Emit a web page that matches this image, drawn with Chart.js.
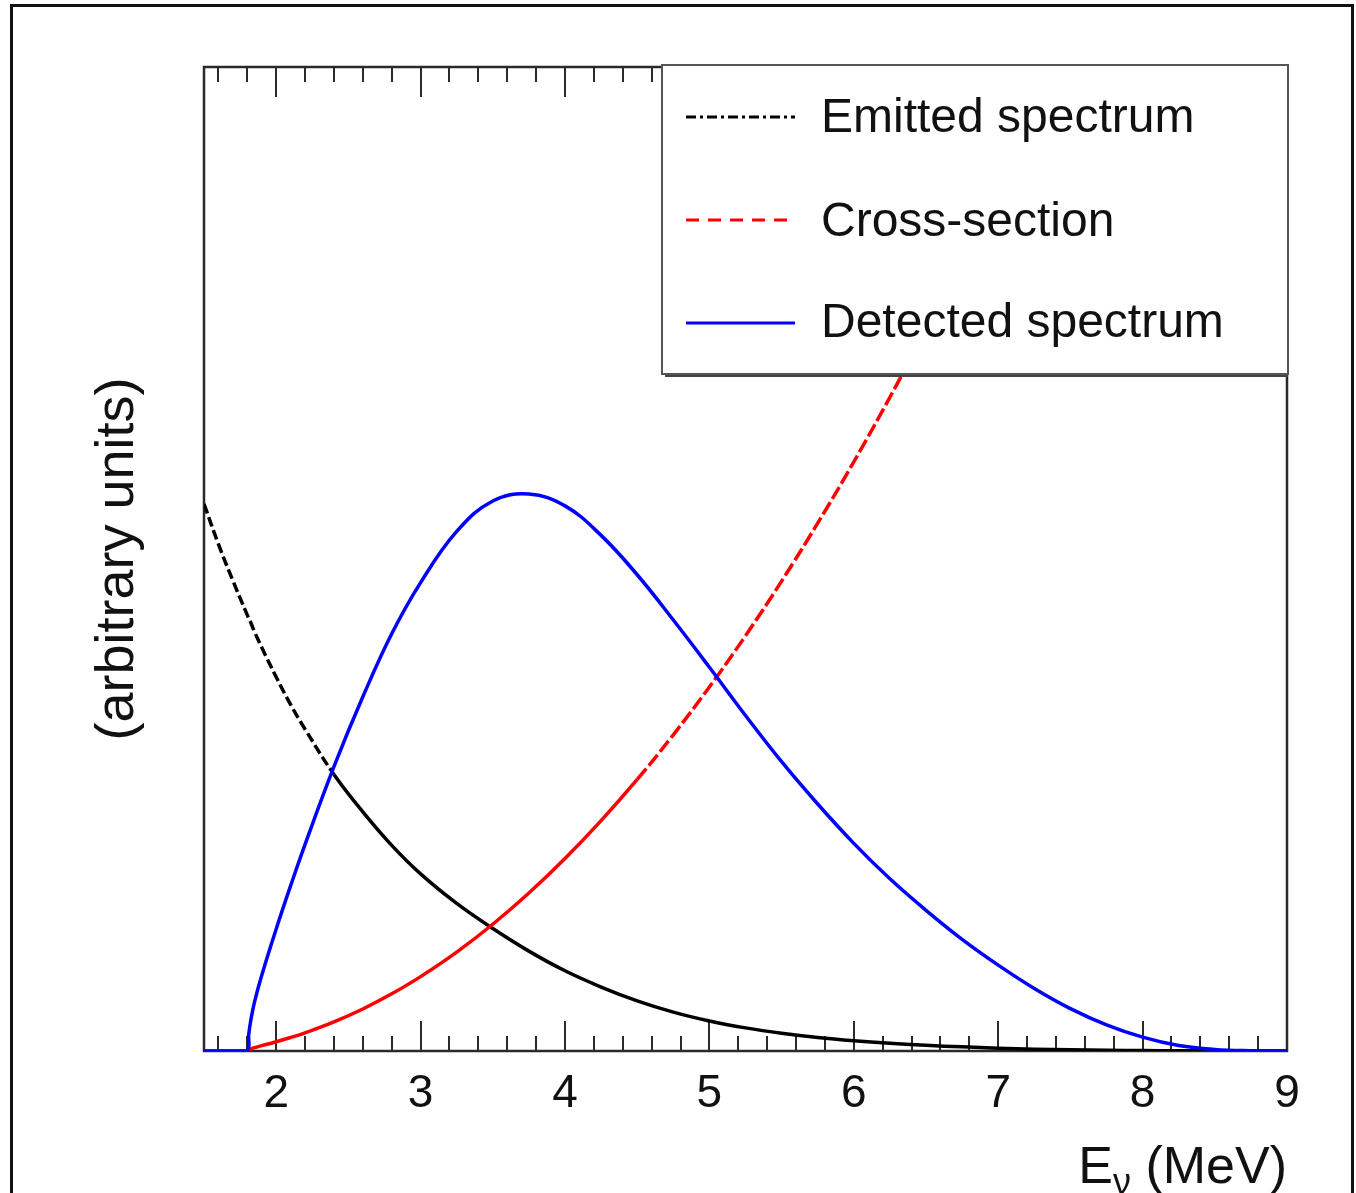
<!DOCTYPE html>
<html>
<head>
<meta charset="utf-8">
<title>Reactor neutrino spectrum</title>
<script src="https://cdn.jsdelivr.net/npm/chart.js@4/dist/chart.umd.min.js"></script>
<style>
  body { margin: 0; background: #fff; }
  canvas { display: block; }
</style>
</head>
<body>
<canvas id="spectrum" width="1356" height="1193"></canvas>
<script>
// neutrino energy (MeV)
var energies = [1.5, 1.6, 1.7, 1.8, 1.81, 1.825, 1.85, 1.9, 2.0, 2.1, 2.2, 2.4, 2.6, 2.8, 3.0, 3.25, 3.5, 3.75, 4.0, 4.25,
                4.5, 4.75, 5.0, 5.25, 5.5, 5.75, 6.0, 6.25, 6.5, 6.75, 7.0, 7.25, 7.5, 7.75, 8.0, 8.25, 8.5, 8.75, 9.0];
// arbitrary units
var emitted = [0.556, 0.515, 0.478, 0.443, 0.440, 0.435, 0.426, 0.410, 0.380, 0.352, 0.327, 0.281, 0.243, 0.209, 0.180, 0.150, 0.1245, 0.1015, 0.0815, 0.065,
               0.051, 0.0395, 0.0305, 0.0235, 0.018, 0.0137, 0.0104, 0.0078, 0.0058, 0.0042, 0.0029, 0.0019, 0.0013, 0.0008, 0.0004, 0.0002, 0.0001, 0, 0];
var crossSection = [0, 0, 0, 0, 0.0011, 0.0021, 0.0034, 0.0054, 0.0094, 0.0137, 0.0185, 0.0296, 0.0427, 0.0581, 0.0756, 0.1005, 0.1288, 0.1605, 0.1956, 0.2341,
                    0.276, 0.3213, 0.370, 0.422, 0.4775, 0.5364, 0.5987, 0.6644, 0.7334, 0.8058, 0.882, 0.961, 1.044, 1.13, 1.22, 1.31, 1.41, 1.51, 1.61];
var detected = [0, 0, 0, 0, 0.017, 0.032, 0.050, 0.077, 0.124, 0.168, 0.210, 0.289, 0.360, 0.424, 0.476, 0.528, 0.559, 0.566, 0.554, 0.524,
                0.484, 0.438, 0.390, 0.341, 0.294, 0.251, 0.211, 0.175, 0.143, 0.1135, 0.0873, 0.0636, 0.0431, 0.0266, 0.0141, 0.0056, 0.0016, 0.0003, 0];
var xTickValues = [2, 3, 4, 5, 6, 7, 8, 9];
var seriesNames = ["Emitted spectrum", "Cross-section", "Detected spectrum"];

var FONT = "'Liberation Sans', Arial, Helvetica, sans-serif";

function points(vals) {
    return energies.map(function(e, i) { return { x: e, y: vals[i] }; });
}

var rootStyle = {
    id: 'rootStyle',
    beforeDraw: function(chart) {
        var c = chart.ctx;
        c.save();
        c.fillStyle = '#fff';
        c.fillRect(0, 0, chart.width, chart.height);
        // outer picture frame
        c.strokeStyle = '#111';
        c.lineWidth = 3;
        c.strokeRect(11.5, 5.5, 1341, 1200);
        c.restore();
    },
    beforeDatasetsDraw: function(chart) {
        var c = chart.ctx, a = chart.chartArea, xs = chart.scales.x;
        c.save();
        c.strokeStyle = '#2a2a2a';
        c.lineWidth = 2.5;
        c.strokeRect(a.left, a.top, a.right - a.left, a.bottom - a.top);
        // ticks pointing inward, bottom and top
        c.lineWidth = 2;
        for (var k = 8; k <= 44; k++) {
            var v = k / 5;
            var px = Math.round(xs.getPixelForValue(v));
            var len = (k % 5 === 0) ? 30 : 15;
            c.beginPath();
            c.moveTo(px, a.bottom); c.lineTo(px, a.bottom - len);
            c.moveTo(px, a.top); c.lineTo(px, a.top + len);
            c.stroke();
        }
        c.restore();
    },
    afterDraw: function(chart) {
        var c = chart.ctx, a = chart.chartArea;
        c.save();
        // legend box with shadow
        var lx = 662, ly = 65, lw = 626, lh = 309;
        c.fillStyle = '#444';
        c.fillRect(lx + 3, ly + lh, lw - 3, 3);
        c.fillStyle = '#fff';
        c.fillRect(lx, ly, lw, lh);
        c.strokeStyle = '#555';
        c.lineWidth = 2;
        c.strokeRect(lx, ly, lw, lh);

        var rows = [117, 220, 323];
        var base = [132, 236, 337];
        chart.data.datasets.forEach(function(ds, i) {
            c.beginPath();
            c.strokeStyle = ds.borderColor;
            c.lineWidth = 3;
            c.setLineDash(ds.legendDash);
            c.moveTo(686, rows[i]);
            c.lineTo(795, rows[i]);
            c.stroke();
            c.setLineDash([]);
            c.fillStyle = '#111';
            c.font = '48px ' + FONT;
            c.textBaseline = 'alphabetic';
            c.textAlign = 'left';
            c.fillText(ds.label, 821, base[i]);
        });

        // x axis title E_nu (MeV), right aligned to the axis end
        c.fillStyle = '#111';
        c.textBaseline = 'alphabetic';
        c.font = '52px ' + FONT;
        var tail = ' (MeV)';
        var wTail = c.measureText(tail).width;
        c.font = '36px ' + FONT;
        var wNu = c.measureText('\u03bd').width;
        c.font = '52px ' + FONT;
        var wE = c.measureText('E').width;
        var x0 = a.right - wTail - wNu - wE;
        c.fillText('E', x0, 1183);
        c.fillText(tail, x0 + wE + wNu, 1183);
        c.font = '36px ' + FONT;
        c.fillText('\u03bd', x0 + wE, 1194);

        // y axis title
        c.translate(118, (a.top + a.bottom) / 2);
        c.rotate(-Math.PI / 2);
        c.font = '54px ' + FONT;
        c.textAlign = 'center';
        c.textBaseline = 'middle';
        c.fillText('(arbitrary units)', 0, 0);
        c.restore();
    }
};

var ctx = document.getElementById('spectrum').getContext('2d');
var myChart = new Chart(ctx, {
    type: 'line',
    data: {
        datasets: [{
            label: seriesNames[0],
            data: points(emitted),
            borderColor: '#000000',
            borderWidth: 3.5,
            legendDash: [10, 4, 3, 4],
            segment: { borderDash: function(s) { return s.p0.parsed.x < 2.35 ? [10, 4] : undefined; } },
            order: 2
        }, {
            label: seriesNames[1],
            data: points(crossSection),
            borderColor: '#ff0000',
            borderWidth: 3.5,
            legendDash: [13, 9],
            segment: { borderDash: function(s) { return s.p0.parsed.x >= 4.5 ? [14, 4] : undefined; } },
            order: 1
        }, {
            label: seriesNames[2],
            data: points(detected),
            borderColor: '#0000ff',
            borderWidth: 3.5,
            legendDash: [],
            order: 0
        }]
    },
    options: {
        responsive: false,
        animation: false,
        devicePixelRatio: 1,
        parsing: false,
        elements: { point: { radius: 0 }, line: { fill: false, tension: 0.4 } },
        layout: { padding: { left: 204, right: 69, top: 67, bottom: 0 } },
        plugins: {
            legend: { display: false },
            tooltip: { enabled: false },
            title: { display: false }
        },
        scales: {
            x: {
                type: 'linear',
                min: 1.5,
                max: 9,
                grid: { display: false, drawTicks: false },
                border: { display: false },
                afterBuildTicks: function(scale) {
                    scale.ticks = xTickValues.map(function(v) { return { value: v }; });
                },
                afterFit: function(scale) { scale.height = 142; },
                ticks: {
                    color: '#111',
                    padding: 16,
                    maxRotation: 0,
                    autoSkip: false,
                    font: { family: FONT, size: 46 },
                    callback: function(v) { return String(v); }
                }
            },
            y: {
                display: false,
                min: 0,
                max: 1
            }
        }
    },
    plugins: [rootStyle]
});
</script>
</body>
</html>
